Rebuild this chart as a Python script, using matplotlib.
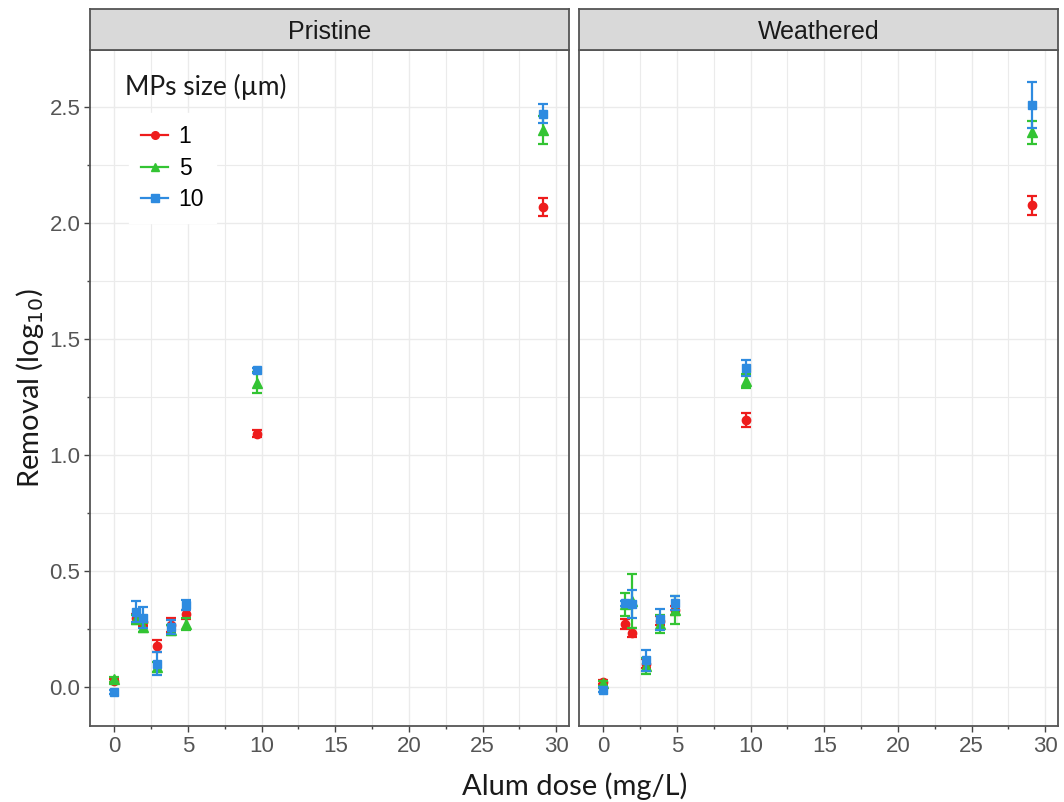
import numpy as np
import matplotlib.pyplot as plt
from matplotlib.ticker import MultipleLocator
from matplotlib.lines import Line2D

# ---------------------------------------------------------------------------
# data
# ---------------------------------------------------------------------------
dose = [0, 1.455, 1.94, 2.91, 3.88, 4.85, 9.7, 29.1]
sizes = ["1", "5", "10"]

pristine_1 = [0.025, 0.295, 0.28, 0.175, 0.266, 0.313, 1.09, 2.067]
pristine_1_err = [0.01, 0.02, 0.02, 0.025, 0.03, 0.02, 0.015, 0.04]
pristine_5 = [0.032, 0.29, 0.256, 0.085, 0.245, 0.27, 1.31, 2.40]
pristine_5_err = [0.01, 0.02, 0.02, 0.02, 0.02, 0.025, 0.045, 0.06]
pristine_10 = [-0.022, 0.323, 0.298, 0.10, 0.256, 0.352, 1.363, 2.47]
pristine_10_err = [0.01, 0.045, 0.045, 0.05, 0.03, 0.02, 0.01, 0.04]

weathered_1 = [0.02, 0.27, 0.233, 0.10, 0.285, 0.33, 1.15, 2.074]
weathered_1_err = [0.01, 0.02, 0.02, 0.02, 0.02, 0.02, 0.03, 0.04]
weathered_5 = [0.015, 0.355, 0.37, 0.09, 0.27, 0.33, 1.316, 2.39]
weathered_5_err = [0.01, 0.05, 0.117, 0.035, 0.04, 0.06, 0.03, 0.05]
weathered_10 = [-0.013, 0.36, 0.355, 0.115, 0.29, 0.36, 1.373, 2.508]
weathered_10_err = [0.01, 0.01, 0.06, 0.045, 0.045, 0.03, 0.035, 0.10]

panels = [
    ("Pristine", [pristine_1, pristine_5, pristine_10],
     [pristine_1_err, pristine_5_err, pristine_10_err]),
    ("Weathered", [weathered_1, weathered_5, weathered_10],
     [weathered_1_err, weathered_5_err, weathered_10_err]),
]

COLORS = ["#EE1C1C", "#33C433", "#2E8BE0"]
MARKERS = ["o", "^", "s"]
MSIZE = [6, 6.5, 6]

# ---------------------------------------------------------------------------
W, H = 1064, 802
fig = plt.figure(figsize=(W / 100, H / 100), dpi=100)

def fx(px):
    return px / W

def fy(py):
    return 1 - py / H

lefts = [90, 579]
pw = 479
top, bot, strip_top = 50, 726, 9
BORDER = "#555555"

for k, (name, series, errs) in enumerate(panels):
    ax = fig.add_axes([fx(lefts[k]), fy(bot), pw / W, (bot - top) / H])
    ax.set_xlim(-1.65, 30.86)
    ax.set_ylim(-0.169, 2.744)
    ax.xaxis.set_major_locator(MultipleLocator(5))
    ax.xaxis.set_minor_locator(MultipleLocator(2.5))
    ax.yaxis.set_major_locator(MultipleLocator(0.5))
    ax.yaxis.set_minor_locator(MultipleLocator(0.25))
    ax.grid(True, which="major", color="#ebebeb", lw=1.0, zorder=0)
    ax.grid(True, which="minor", color="#ebebeb", lw=0.8, zorder=0)
    ax.set_axisbelow(True)
    for sp in ax.spines.values():
        sp.set_color(BORDER)
        sp.set_linewidth(1.3)
    ax.tick_params(which="major", length=4, width=1, color="#444444",
                   labelsize=16, labelcolor="#555555", pad=3)
    ax.tick_params(which="minor", length=2.5, width=1, color="#444444")
    for lbl in ax.get_xticklabels() + ax.get_yticklabels():
        lbl.set_family("Liberation Sans")
    if k == 1:
        ax.tick_params(axis="y", which="both", left=False, labelleft=False)
    else:
        ax.set_yticklabels([f"{v:.1f}" for v in ax.get_yticks()])

    for i in range(3):
        ax.errorbar(dose, series[i], yerr=errs[i], fmt=MARKERS[i],
                    color=COLORS[i], ms=MSIZE[i], elinewidth=1.6,
                    capsize=3.5, capthick=1.6, zorder=3 + i)

    # facet strip
    sax = fig.add_axes([fx(lefts[k]), fy(top), pw / W, (top - strip_top) / H])
    sax.set_facecolor("#d9d9d9")
    sax.set_xticks([])
    sax.set_yticks([])
    for sp in sax.spines.values():
        sp.set_color(BORDER)
        sp.set_linewidth(1.3)
    sax.text(0.5, 0.45, name, ha="center", va="center", fontsize=18,
             color="#1a1a1a", family="Liberation Sans", transform=sax.transAxes)

    if k == 0:
        handles = [Line2D([0], [0], color=COLORS[i], marker=MARKERS[i],
                          ms=MSIZE[i] - 0.5, lw=1.6) for i in range(3)]
        leg = ax.legend(handles, sizes, loc="upper left",
                        bbox_to_anchor=((118 - 90) / pw, 1 - (102 - top) / (bot - top)),
                        frameon=True, fancybox=False, edgecolor="white",
                        framealpha=1, handlelength=1.2, handletextpad=0.45,
                        labelspacing=0.38, borderpad=0.5,
                        prop={"family": "Liberation Sans", "size": 16.5})
        ax.text((125 - 90) / pw, 1 - (87 - top) / (bot - top), "MPs size (µm)",
                transform=ax.transAxes, ha="left", va="center", fontsize=19,
                family="Lato", color="#1a1a1a")

fig.text(fx(575), fy(786), "Alum dose (mg/L)", ha="center", va="center",
         fontsize=21, family="Lato", color="#1a1a1a")
fig.text(fx(30), fy(388), "Removal (log$_{10}$)", ha="center", va="center",
         rotation=90, fontsize=21, family="Lato", color="#1a1a1a")

fig.savefig("out.png", dpi=100)
